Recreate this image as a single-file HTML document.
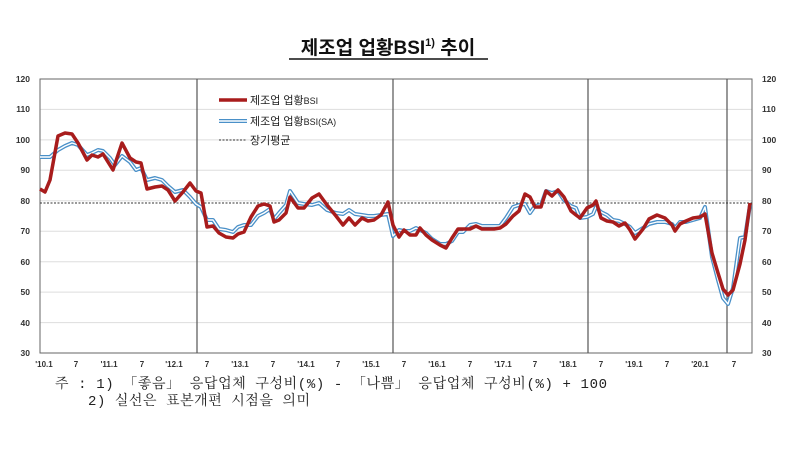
<!DOCTYPE html>
<html><head><meta charset="utf-8"><style>
body{margin:0;background:#fff;width:794px;height:450px;overflow:hidden}
svg text{font-family:"Liberation Sans","Noto Sans CJK KR",sans-serif}
svg text.note{font-family:"Liberation Mono","Noto Serif CJK SC",serif}
</style></head><body>
<svg width="794" height="450" viewBox="0 0 794 450" xmlns="http://www.w3.org/2000/svg">
<text x="388" y="54" text-anchor="middle" font-size="19" font-weight="bold" fill="#111">제조업 업황BSI<tspan font-size="11" dy="-8">1)</tspan><tspan dy="8"> 추이</tspan></text>
<line x1="289" y1="59" x2="488" y2="59" stroke="#111" stroke-width="1.5"/>
<g stroke="#ddd" stroke-width="1">
<line x1="40" y1="109.4" x2="752" y2="109.4"/><line x1="40" y1="139.9" x2="752" y2="139.9"/>
<line x1="40" y1="170.3" x2="752" y2="170.3"/><line x1="40" y1="200.8" x2="752" y2="200.8"/>
<line x1="40" y1="231.2" x2="752" y2="231.2"/><line x1="40" y1="261.7" x2="752" y2="261.7"/>
<line x1="40" y1="292.1" x2="752" y2="292.1"/><line x1="40" y1="322.6" x2="752" y2="322.6"/>
</g>
<rect x="40" y="79" width="712" height="274" fill="none" stroke="#666" stroke-width="1"/>
<g stroke="#555" stroke-width="1.2">
<line x1="197" y1="79" x2="197" y2="353"/><line x1="393" y1="79" x2="393" y2="353"/>
<line x1="588" y1="79" x2="588" y2="353"/><line x1="727" y1="79" x2="727" y2="353"/>
</g>
<line x1="40" y1="203" x2="752" y2="203" stroke="#333" stroke-width="1" stroke-dasharray="2,1.5"/>
<g font-size="8.5" font-weight="bold" fill="#333" text-anchor="end">
<text x="30" y="82">120</text><text x="30" y="112">110</text><text x="30" y="143">100</text><text x="30" y="173">90</text><text x="30" y="204">80</text><text x="30" y="234">70</text><text x="30" y="265">60</text><text x="30" y="295">50</text><text x="30" y="326">40</text><text x="30" y="356">30</text>
</g>
<g font-size="8.5" font-weight="bold" fill="#333">
<text x="762" y="82">120</text><text x="762" y="112">110</text><text x="762" y="143">100</text><text x="762" y="173">90</text><text x="762" y="204">80</text><text x="762" y="234">70</text><text x="762" y="265">60</text><text x="762" y="295">50</text><text x="762" y="326">40</text><text x="762" y="356">30</text>
</g>
<g font-size="8" font-weight="bold" fill="#333" text-anchor="middle">
<text x="44" y="367">'10.1</text><text x="76" y="367">7</text><text x="109" y="367">'11.1</text><text x="142" y="367">7</text><text x="174" y="367">'12.1</text><text x="207" y="367">7</text><text x="240" y="367">'13.1</text><text x="273" y="367">7</text><text x="306" y="367">'14.1</text><text x="338" y="367">7</text><text x="371" y="367">'15.1</text><text x="404" y="367">7</text><text x="437" y="367">'16.1</text><text x="470" y="367">7</text><text x="503" y="367">'17.1</text><text x="535" y="367">7</text><text x="568" y="367">'18.1</text><text x="601" y="367">7</text><text x="634" y="367">'19.1</text><text x="667" y="367">7</text><text x="700" y="367">'20.1</text><text x="734" y="367">7</text>
</g>
<g fill="none" stroke-linejoin="round">
<polyline stroke="#4a90c8" stroke-width="4" points="40,157 50,157 58,150 65,146 72,143 78,145 87,155 92,153 98,150 103,151 110,158 115,165 122,156 130,162 136,170 141,168 147,180 155,178 162,180 168,186 175,192 183,190 190,197 196,204 201,207 207,220 213,220 219,229 226,230 233,232 238,227 244,225 251,225 258,216 264,213 270,209 274,219 279,213 286,205 290,191 298,203 304,204 312,205 319,203 327,210 336,213 343,214 349,210 355,214 362,215 368,216 374,216 381,215 388,214 393,236 399,230 404,231 410,231 416,228 420,230 426,233 432,239 440,244 446,244 452,241 458,232 463,232 470,225 476,224 482,226 488,226 494,226 500,226 506,218 513,207 519,205 525,204 530,213 535,206 541,205 546,191 552,193 558,191 564,200 571,206 576,208 580,218 587,217 593,214 596,207 601,212 607,215 613,220 619,221 625,224 630,227 635,233 643,228 649,224 657,222 665,222 672,224 675,228 680,222 686,222 693,220 700,218 705,207 712,257 718,280 723,298 728,304 733,288 740,238 745,237 750,205"/>
<polyline stroke="#fff" stroke-width="1.4" points="40,157 50,157 58,150 65,146 72,143 78,145 87,155 92,153 98,150 103,151 110,158 115,165 122,156 130,162 136,170 141,168 147,180 155,178 162,180 168,186 175,192 183,190 190,197 196,204 201,207 207,220 213,220 219,229 226,230 233,232 238,227 244,225 251,225 258,216 264,213 270,209 274,219 279,213 286,205 290,191 298,203 304,204 312,205 319,203 327,210 336,213 343,214 349,210 355,214 362,215 368,216 374,216 381,215 388,214 393,236 399,230 404,231 410,231 416,228 420,230 426,233 432,239 440,244 446,244 452,241 458,232 463,232 470,225 476,224 482,226 488,226 494,226 500,226 506,218 513,207 519,205 525,204 530,213 535,206 541,205 546,191 552,193 558,191 564,200 571,206 576,208 580,218 587,217 593,214 596,207 601,212 607,215 613,220 619,221 625,224 630,227 635,233 643,228 649,224 657,222 665,222 672,224 675,228 680,222 686,222 693,220 700,218 705,207 712,257 718,280 723,298 728,304 733,288 740,238 745,237 750,205"/>
<polyline stroke="#a81c1c" stroke-width="3.5" points="40,189 45,192 50,180 58,136 65,133 72,134 78,143 87,160 92,155 98,157 103,154 113,170 122,143 130,158 136,162 141,163 147,189 155,187 162,186 168,190 175,201 183,192 190,183 196,191 201,193 207,227 213,226 219,233 226,237 233,238 238,234 244,232 251,217 258,206 264,204 270,206 274,222 279,220 286,213 290,197 298,208 304,208 312,198 319,194 327,205 336,216 343,225 349,218 355,225 362,218 368,221 374,220 381,215 388,202 393,225 399,237 404,230 410,235 416,235 420,228 426,235 432,240 440,245 446,248 452,238 458,229 463,229 470,229 476,226 482,229 488,229 494,229 500,228 506,224 513,216 519,211 525,194 530,197 535,207 541,207 546,191 552,196 558,190 564,197 571,211 576,215 580,218 587,208 593,205 596,201 601,218 607,221 613,222 619,226 625,223 630,230 635,239 643,229 649,219 657,215 665,218 672,225 675,231 680,224 686,221 693,218 700,217 705,214 712,253 718,273 723,289 728,295 733,290 740,264 745,240 750,203"/>
</g>
<line x1="219" y1="100" x2="247" y2="100" stroke="#a81c1c" stroke-width="3.5"/>
<line x1="219" y1="121" x2="247" y2="121" stroke="#4a90c8" stroke-width="4"/>
<line x1="219" y1="121" x2="247" y2="121" stroke="#fff" stroke-width="1.4"/>
<line x1="219" y1="140" x2="247" y2="140" stroke="#333" stroke-width="1" stroke-dasharray="2,1.5"/>
<g font-size="11" fill="#222">
<text x="250" y="104">제조업 업황<tspan font-size="9">BSI</tspan></text>
<text x="250" y="125">제조업 업황<tspan font-size="9">BSI(SA)</tspan></text>
<text x="250" y="144">장기평균</text>
</g>
<g font-size="14" fill="#222">
<text class="note" x="55" y="388" textLength="552" lengthAdjust="spacing">주 : 1) 「좋음」  응답업체 구성비(%) - 「나쁨」  응답업체 구성비(%) + 100</text>
<text class="note" x="88" y="405" textLength="222" lengthAdjust="spacing">2) 실선은 표본개편 시점을 의미</text>
</g>
</svg>
</body></html>
